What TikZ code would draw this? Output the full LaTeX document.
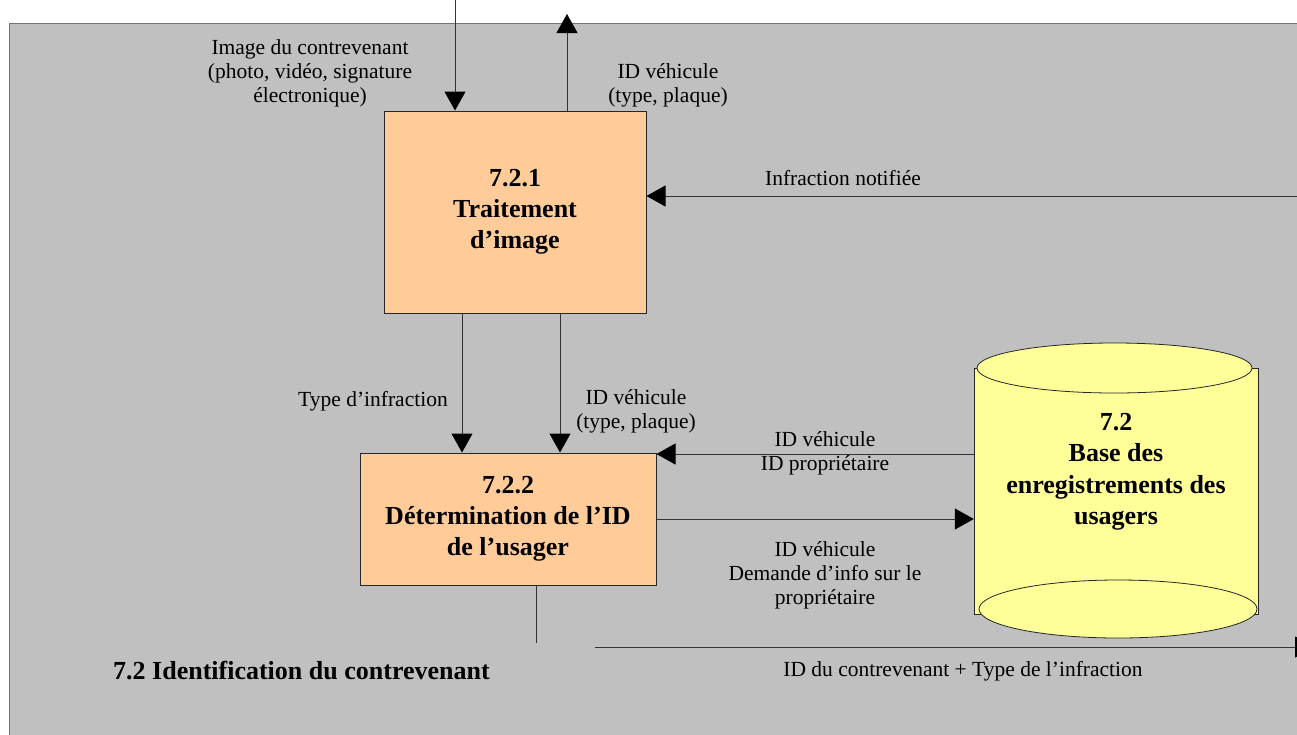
\documentclass[tikz,border=0pt]{standalone}
\usepackage{fontspec}
\setmainfont{Liberation Serif}
\usetikzlibrary{arrows.meta,calc}
\definecolor{panelgray}{HTML}{C0C0C0}
\definecolor{procfill}{HTML}{FFCC99}
\definecolor{storefill}{HTML}{FFFF99}
\tikzset{
  flow/.style={line width=1pt, draw=black!80},
  arr/.style={flow, -{Triangle[length=19pt,width=21pt,fill=black,color=black]}},
  procbox/.style={draw=black!85, line width=1pt, fill=procfill, align=center,
    font=\fontsize{26}{31}\selectfont\bfseries, inner sep=0pt},
  lbl/.style={align=center, font=\fontsize{21.5}{24}\selectfont, inner sep=0pt},
  title/.style={font=\fontsize{26}{30}\selectfont\bfseries, inner sep=0pt, anchor=west},
}
\begin{document}
\begin{tikzpicture}[x=1pt,y=-1pt]
\useasboundingbox (0,0) rectangle (1297,734);
\clip (0,0) rectangle (1297,734);
% panel
\fill[white] (0,0) rectangle (1297,734);
\draw[fill=panelgray, draw=black!55, line width=1.2pt] (9.5,23.5) rectangle (1310,745);

% processes
\node[procbox, minimum width=262pt, minimum height=202pt] (p1) at (515,212)
  {7.2.1\\Traitement\\d’image};
\node[procbox, minimum width=296pt, minimum height=132pt] (p2) at (508,519)
  {7.2.2\\Détermination de l’ID\\de l’usager};

% data store (cylinder)
\fill[storefill, draw=black!85, line width=0.8pt] (974,368) rectangle (1258,614);
\draw[fill=storefill, draw=black!85, line width=0.8pt] (1118,609) ellipse [x radius=139, y radius=29];
\draw[fill=storefill, draw=black!85, line width=0.8pt] (1114.5,368) ellipse [x radius=137.5, y radius=25];
\node[draw=none, minimum width=284pt, minimum height=246pt, inner sep=0pt] (db) at (1116,491) {};
\node[align=center, font=\fontsize{26}{31.5}\selectfont\bfseries, inner sep=0pt] (dbtext) at (1116,472)
  {7.2\\Base des\\enregistrements des\\usagers};

% external ends
\coordinate (inTop) at (455,0);
\coordinate (outTop) at (567,14);
\coordinate (notifR) at (1297,196);
\coordinate (exitL) at (595,647);
\coordinate (exitR) at (1314,647);
\coordinate (p2tail) at (536,643);

% connectors
\draw[arr] (inTop) -- (inTop |- p1.north);
\draw[arr] (outTop |- p1.north) -- (outTop);
\draw[arr] (notifR) -- (p1.east |- notifR);
\draw[arr] ([xshift=-53pt]p1.south) -- ([xshift=-53pt]p1.south |- p2.north);
\draw[arr] ([xshift=45pt]p1.south) -- ([xshift=45pt]p1.south |- p2.north);
\draw[arr] ([yshift=37pt]db.west) -- ([yshift=37pt]db.west -| p2.east);
\draw[arr] (p2.east) -- (p2.east -| db.west);
\draw[flow] (p2.south -| p2tail) -- (p2tail);
\draw[arr] (exitL) -- (exitR);

% labels
\node[lbl] (lImg) at (310,73) {Image du contrevenant\\(photo, vidéo, signature\\électronique)};
\node[lbl] (lVeh1) at (668,85) {ID véhicule\\(type, plaque)};
\node[lbl] (lNotif) at (843,178) {Infraction notifiée};
\node[lbl] (lType) at (373,401) {Type d’infraction};
\node[lbl] (lVeh2) at (636,411) {ID véhicule\\(type, plaque)};
\node[lbl] (lOwner) at (825,453) {ID véhicule\\ID propriétaire};
\node[lbl] (lReq) at (825,575) {ID véhicule\\Demande d’info sur le\\propriétaire};
\node[lbl] (lOut) at (963,671) {ID du contrevenant + Type de l’infraction};
\node[title] (ttl) at (113,671) {7.2 Identification du contrevenant};
\end{tikzpicture}
\end{document}
